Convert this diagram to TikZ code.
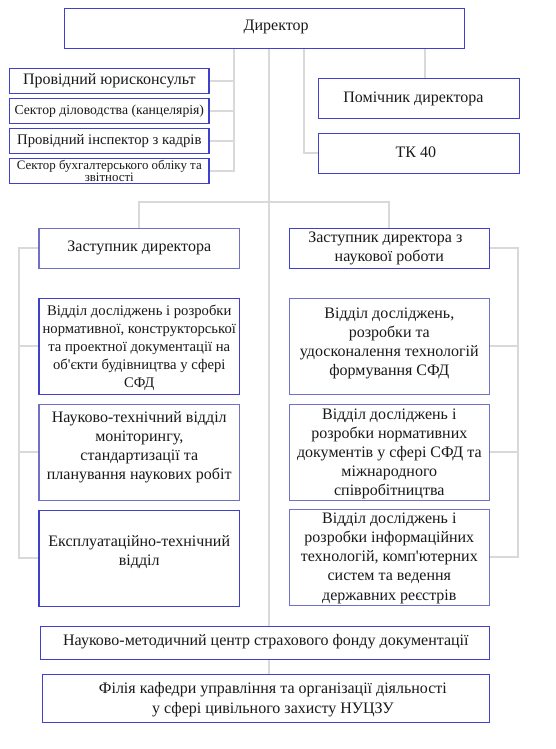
\documentclass[tikz,border=0pt]{standalone}
\usepackage{fontspec}
\setmainfont{Liberation Serif}
\usetikzlibrary{calc,backgrounds}
\definecolor{bdark}{RGB}{64,64,204}
\definecolor{blight}{RGB}{112,112,200}
\definecolor{conn}{RGB}{217,217,217}
\definecolor{txtc}{RGB}{25,25,25}
\begin{document}
\begin{tikzpicture}[x=1pt,y=-1pt,
  box/.style={draw=bdark, fill=white, line width=1.1pt, inner sep=0pt, outer sep=0pt, rectangle},
  lbox/.style={box, draw=blight},
  lbl/.style={text=txtc, align=center, inner sep=0pt, font=\fontsize{16}{19}\selectfont},
  link/.style={draw=conn, line width=2pt, line join=miter}]
\useasboundingbox (0,0) rectangle (556,749);

% boxes
\node[box, minimum width=400.2pt, minimum height=40pt] (dir) at (264.2,28.3) {};
\node[box, minimum width=199.4pt, minimum height=25pt] (yur) at (109.3,80.8) {};
\node[box, minimum width=199.4pt, minimum height=25pt] (dil) at (109.3,110.8) {};
\node[box, minimum width=199.4pt, minimum height=25pt] (insp) at (109.3,140.8) {};
\node[box, minimum width=199.4pt, minimum height=25pt] (bukh) at (109.3,170.8) {};
\node[box, minimum width=200.4pt, minimum height=40pt] (pom) at (419.1,98.3) {};
\node[box, minimum width=200.4pt, minimum height=40pt] (tk) at (419.1,153.3) {};
\node[lbox, minimum width=200.5pt, minimum height=40pt] (zd) at (139.25,248.3) {};
\node[box, minimum width=200.2pt, minimum height=40pt] (zn) at (389.3,248.3) {};
\node[box, minimum width=200.5pt, minimum height=96pt] (l1) at (139.25,346.3) {};
\node[lbox, minimum width=200.2pt, minimum height=96pt] (r1) at (389.3,346.3) {};
\node[lbox, minimum width=200.5pt, minimum height=95.7pt] (l2) at (139.25,452.2) {};
\node[lbox, minimum width=200.2pt, minimum height=95.7pt] (r2) at (389.3,452.2) {};
\node[box, minimum width=200.5pt, minimum height=95.7pt] (l3) at (139.25,558.2) {};
\node[lbox, minimum width=200.2pt, minimum height=95.7pt] (r3) at (389.3,557.2) {};
\node[box, minimum width=449pt, minimum height=33.3pt] (nmc) at (264.9,642.7) {};
\node[box, minimum width=447.2pt, minimum height=48.3pt] (fil) at (265.8,698.2) {};

% texts
\node[lbl] (dirT) at ($(dir)+(12,-1)$) {Директор};
\node[lbl] (yurT) at (yur) {Провідний юрисконсульт};
\node[lbl, font=\fontsize{13.7}{16}\selectfont] (dilT) at (dil) {Сектор діловодства (канцелярія)};
\node[lbl, font=\fontsize{14.7}{17}\selectfont] (inspT) at (insp) {Провідний інспектор з кадрів};
\node[lbl, font=\fontsize{12.9}{11}\selectfont] (bukhT) at ($(bukh)+(0,0.4)$) {Сектор бухгалтерського обліку та\\звітності};
\node[lbl] (pomT) at ($(pom)+(-5.7,0.7)$) {Помічник директора};
\node[lbl] (tkT) at ($(tk)+(-3.3,-0.6)$) {ТК 40};
\node[lbl] (zdT) at (zd) {Заступник директора};
\node[lbl, font=\fontsize{16}{18.7}\selectfont] (znT) at (zn) {Заступник директора з\hspace*{8pt}\\наукової роботи};
\node[lbl, font=\fontsize{14.67}{18}\selectfont] (l1T) at ($(l1)+(0,1.2)$) {Відділ досліджень і розробки\\нормативної, конструкторської\\та проектної документації на\\об\textquotesingle єкти будівництва у сфері\\СФД};
\node[lbl] (r1T) at ($(r1)+(0,-2.6)$) {Відділ досліджень,\\розробки та\\удосконалення технологій\\формування СФД};
\node[lbl] (l2T) at ($(l2)+(0,-4.5)$) {Науково-технічний відділ\\моніторингу,\\стандартизації та\\планування наукових робіт};
\node[lbl] (l3T) at ($(l3)+(0,-6)$) {Експлуатаційно-технічний\\відділ};
\node[lbl] (r2T) at ($(r2)+(0,2)$) {Відділ досліджень і\\розробки нормативних\\документів у сфері СФД та\\міжнародного\\співробітництва};
\node[lbl, font=\fontsize{16}{19.3}\selectfont] (r3T) at ($(r3)+(0,0.8)$) {Відділ досліджень і\\розробки інформаційних\\технологій, комп\textquotesingle ютерних\\систем та ведення\\державних реєстрів};
\node[lbl] (nmcT) at ($(nmc)+(1,-1)$) {Науково-методичний центр страхового фонду документації};
\node[lbl, font=\fontsize{16}{19.3}\selectfont] (filT) at ($(fil)+(7.1,1.5)$) {Філія кафедри управління та організації діяльності\\у сфері цивільного захисту НУЦЗУ};

% connectors
\begin{scope}[on background layer]
\fill[white] (0,0) rectangle (556,749);
\coordinate (lb) at (234,0);
\coordinate (tr) at (269,0);
\coordinate (tx) at (303.7,0);
\coordinate (px) at (424.7,0);
\coordinate (zb) at (0,202.3);
\coordinate (ls) at (18.8,0);
\coordinate (rs) at (518.4,0);
\draw[link] (dir.south -| lb) -- (bukh.east -| lb) -- (bukh.east);
\draw[link] (yur.east) -- (yur.east -| lb);
\draw[link] (dil.east) -- (dil.east -| lb);
\draw[link] (insp.east) -- (insp.east -| lb);
\draw[link] (dir.south -| tx) |- (tk.west);
\draw[link] (dir.south -| px) -- (pom.north -| px);
\draw[link] (dir.south -| tr) -- (nmc.north -| tr);
\draw[link] (nmc.south -| tr) -- (fil.north -| tr);
\draw[link] (zd.north) -- (zd.north |- zb) -- (zn.north |- zb) -- (zn.north);
\draw[link] (zd.west) -- (zd.west -| ls) -- (l3.west -| ls) -- (l3.west);
\draw[link] (l1.west) -- (l1.west -| ls);
\draw[link] (l2.west) -- (l2.west -| ls);
\draw[link] (zn.east) -- (zn.east -| rs) -- (r3.east -| rs) -- (r3.east);
\draw[link] (r1.east) -- (r1.east -| rs);
\draw[link] (r2.east) -- (r2.east -| rs);
\end{scope}
\end{tikzpicture}
\end{document}
